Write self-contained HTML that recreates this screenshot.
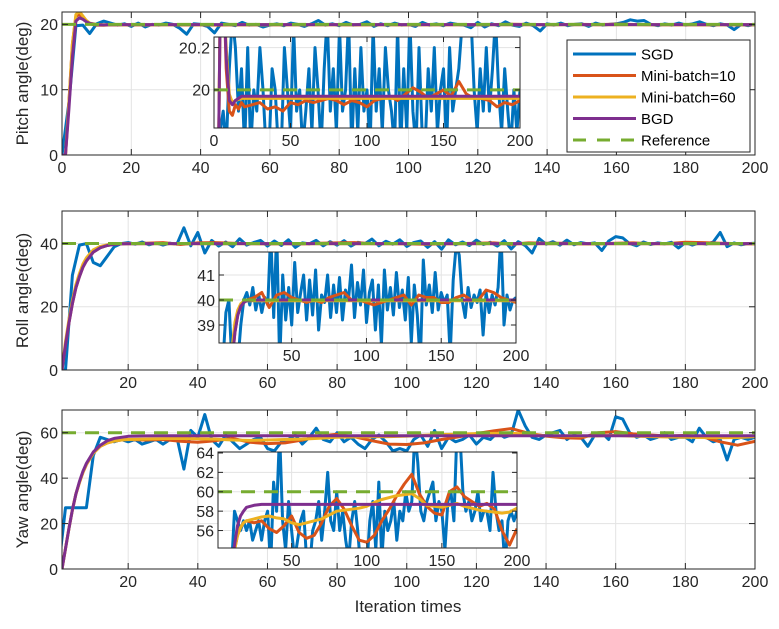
<!DOCTYPE html>
<html><head><meta charset="utf-8"><style>
html,body{margin:0;padding:0;background:#fff;width:779px;height:629px;overflow:hidden}
svg{display:block;font-family:"Liberation Sans",Arial,sans-serif}
</style></head><body>
<svg id="fig" width="779" height="629" viewBox="0 0 779 629" xmlns="http://www.w3.org/2000/svg"></svg>
<script>
// ---- data ----
const iters = Array.from({length:101},(_, i)=>i*2);
const smoothX = [0,1,2,3,4,5,6,7,8,10,12,14,16,18,20,25,30,35,40,45,50,55,60,65,70,75,80,85,90,95,100,105,110,115,120,125,130,135,140,145,150,155,160,165,170,175,180,185,190,195,200];

const pitchSGD = [0,8,19.8,19.9,18.6,20.1,20.5,20.2,19.9,20.1,
19.7,20.2,19.6,20.0,19.9,20.2,20.0,19.4,18.5,20.1,
20.0,19.7,18.7,20.2,20.0,19.8,20.3,19.9,20.0,19.6,
19.9,20.1,19.8,20.2,20.0,19.7,20.1,20.6,19.9,20.1,
19.8,20.3,19.9,20.0,20.4,19.7,20.1,19.8,20.2,19.9,
20.0,19.7,20.3,19.9,20.1,19.8,20.2,20.0,19.9,19.5,
20.3,19.6,20.1,19.8,20.4,19.9,19.7,20.2,19.8,19.0,
20.1,19.9,20.2,19.8,20.0,20.1,19.7,20.2,19.9,20.0,
20.1,20.3,20.7,20.5,20.6,20.0,19.8,20.1,19.9,20.2,
19.9,20.1,20.4,20.0,19.8,20.1,19.9,19.2,20.0,19.8,20.0];
const pitchMB10 = [0,0,8,17,21.2,21.6,21,20.5,20.1,19.9,19.88,19.93,19.91,19.94,19.92,19.93,19.94,19.91,19.92,19.90,19.94,19.93,19.95,19.94,19.95,19.96,19.95,19.93,19.95,19.94,19.92,19.95,19.96,19.97,19.95,19.98,20.01,19.99,19.96,19.98,20.0,19.97,20.04,19.98,19.96,19.96,19.95,19.92,19.94,19.93,19.95];
const pitchMB60 = [0,0,8,17,21.5,22,21.3,20.6,20.2,19.98,19.94,19.95,19.955,19.96,19.96,19.96,19.96,19.96,19.96,19.96,19.96,19.96,19.96,19.96,19.96,19.96,19.96,19.96,19.96,19.96,19.96,19.96,19.96,19.96,19.96,19.96,19.96,19.96,19.96,19.96,19.96,19.96,19.96,19.96,19.96,19.96,19.96,19.96,19.96,19.96,19.96];
const pitchBGD = [0,0,7,15,20.5,21,20.8,20.4,20.15,19.95,19.93,19.95,19.96,19.97,19.97,19.97,19.97,19.97,19.97,19.97,19.97,19.97,19.97,19.97,19.97,19.97,19.97,19.97,19.97,19.97,19.97,19.97,19.97,19.97,19.97,19.97,19.97,19.97,19.97,19.97,19.97,19.97,19.97,19.97,19.97,19.97,19.97,19.97,19.97,19.97,19.97];

const rollSGD = [0,0,30,39.5,40,34,33,36,39,40,
40.3,39.8,40.5,39.6,40.2,39.5,40.1,39.8,45,39.3,
43.5,37,41,39.2,40.5,39.0,41.5,39.5,40.3,41.0,
39.2,40.8,39.4,41.2,38.8,40.2,39.9,41.0,39.3,40.6,
39.5,40.9,39.2,40.4,40.0,41.4,39.3,40.7,39.8,41.2,
39.1,40.3,40.8,38.8,40.6,38.2,41.2,39.6,40.5,39.4,
41.1,39.7,40.4,39.2,40.9,38.3,40.6,39.4,37.0,41.6,
39.8,40.6,39.5,41.1,39.6,40.3,39.9,40.2,37.8,40.8,
42.2,41.8,40.0,39.3,40.5,39.7,40.2,39.9,40.4,38.6,
40.3,39.5,40.2,39.8,40.5,43.5,39.0,40.2,39.6,40.0,40.1];
const rollMB10 = [0,0,8,15,21,26,29.5,32.5,34.5,37.3,38.7,39.4,39.75,39.9,40.0,40.1,40.3,39.7,40.2,40.3,40.1,40.0,39.9,40.0,39.9,40.1,40.2,40.3,40.0,40.0,39.9,39.8,39.9,40.0,40.1,40.2,39.8,40.2,40.1,40.1,39.9,39.9,40.1,40.2,40.0,40.0,40.4,40.3,40.1,40.0,39.9];
const rollMB60 = [0,0,9,16,22,27,30.5,33.5,35.5,38,39.1,39.6,39.85,39.95,39.97,39.97,39.97,39.97,39.97,39.97,39.97,39.97,39.97,39.97,39.97,39.97,39.97,39.97,39.97,39.97,39.97,39.97,39.97,39.97,39.97,39.97,39.97,39.97,39.97,39.97,39.97,39.97,39.97,39.97,39.97,39.97,39.97,39.97,39.97,39.97,39.97];
const rollBGD = [0,0,8,15,21,26,29.5,32.5,34.5,37.3,38.7,39.4,39.75,39.9,39.97,40,40,40,40,40,40,40,40,40,40,40,40,40,40,40,40,40,40,40,40,40,40,40,40,40,40,40,40,40,40,40,40,40,40,40,40];

const yawSGD = [0,27,27,27,27,50,58,57,56,57,
56,57,55,56,57,55,57,58,44,61,
58,68,57,54,59,56,53,55,57,58,
53,52,56,57,59,55,58,62,57,56,
60,56,58,55,53,57,59,56,52,53,
52,57,59,54,61,53,58,56,57,59,
55,58,57,60,58,59,70,63,58,57,
59,60,61,57,59,58,54,59,60,57,
67,66,60,58,59,57,58,60,57,58,
58,56,62,58,56,57,48,57,58,57,58];
const yawMB10 = [0,0,9,18,26,33,38,42.5,46,51,54,55.5,56.3,56.8,57.0,56.8,57.0,56.2,55.8,56.5,57.5,55.8,55.2,55.5,56.8,58.5,59.3,58.2,56.5,55.0,54.8,55.5,57.0,58.2,59.6,60.8,61.8,59.8,58.5,57.8,57.6,60.0,60.5,59.5,59.0,58.5,58.8,58.2,56.0,54.5,56.2];
const yawMB60 = [0,0,9,18,26,33,38,42.5,46,51,54,55.5,56.3,56.8,57.0,57.2,57.4,57.5,57.3,57.2,56.8,56.6,56.8,57.0,57.2,57.6,58.0,58.1,58.2,58.3,58.5,58.9,59.2,59.4,59.6,59.7,59.8,59.3,58.6,58.5,58.4,58.6,58.8,58.5,58.3,58.1,58.0,57.9,57.8,57.9,58.3];
const yawBGD = [0,0,9,18,26,33,38.5,43,46.5,51.5,54.5,56.5,57.5,58,58.4,58.6,58.7,58.7,58.7,58.7,58.7,58.7,58.7,58.7,58.7,58.7,58.7,58.7,58.7,58.7,58.7,58.7,58.7,58.7,58.7,58.7,58.7,58.7,58.7,58.7,58.7,58.7,58.7,58.7,58.7,58.7,58.7,58.7,58.7,58.7,58.7];

const pitchRef = [20], rollRef = [40], yawRef = [60];
const legendLabels = ["SGD","Mini-batch=10","Mini-batch=60","BGD","Reference"];

// ---- drawing ----
const NS="http://www.w3.org/2000/svg";
const svg=document.getElementById('fig');
const C={sgd:"#0072BD",mb10:"#D95319",mb60:"#EDB120",bgd:"#7E2F8E",ref:"#77AC30"};
let clipId=0;
function mk(tag,attrs,parent){const e=document.createElementNS(NS,tag);for(const k in attrs)e.setAttribute(k,attrs[k]);(parent||svg).appendChild(e);return e;}

function drawAxes(name,ax){
  const g=mk('g',{});
  
  
  const X=v=>ax.x0+(v-ax.xlim[0])/(ax.xlim[1]-ax.xlim[0])*(ax.x1-ax.x0);
  const Y=v=>ax.y1-(v-ax.ylim[0])/(ax.ylim[1]-ax.ylim[0])*(ax.y1-ax.y0);
  const Yc=v=>Math.max(ax.y0-20,Math.min(ax.y1+20,Y(v)));
  const bg=mk('rect',{x:ax.x0,y:ax.y0,width:ax.x1-ax.x0,height:ax.y1-ax.y0,fill:'#fff'},g);
  
  
  const grid=mk('g',{stroke:'#e3e3e3','stroke-width':1},g);
  
  
  ax.xticks.forEach(t=>{const x=X(t);if(x>ax.x0+1&&x<ax.x1-1)mk('line',{x1:x,x2:x,y1:ax.y0,y2:ax.y1},grid);});
  ax.yticks.forEach(t=>{const y=Y(t);if(y>ax.y0+1&&y<ax.y1-1)mk('line',{x1:ax.x0,x2:ax.x1,y1:y,y2:y},grid);});
  const id='clip'+(clipId++);
  const cp=mk('clipPath',{id:id},g);mk('rect',{x:ax.x0,y:ax.y0,width:ax.x1-ax.x0,height:ax.y1-ax.y0},cp);
  const sg=mk('g',{'clip-path':'url(#'+id+')',fill:'none','stroke-width':3,'stroke-linejoin':'round'},g);
  ax.series.forEach(s=>{
    let d;
    if(s.ref){d='M'+X(ax.xlim[0])+','+Y(s.ys[0])+'L'+X(ax.xlim[1])+','+Y(s.ys[0]);}
    else d=s.xs.map((v,i)=>(i?'L':'M')+Math.max(ax.x0-10,X(v)).toFixed(1)+','+Yc(s.ys[i]).toFixed(1)).join('');
    const p=mk('path',{d:d,stroke:s.c},sg);
    if(s.ref)p.setAttribute('stroke-dasharray','14 9');
    
    
  });
  const tk=mk('g',{stroke:'#262626','stroke-width':1,fill:'none'},g);
  mk('rect',{x:ax.x0,y:ax.y0,width:ax.x1-ax.x0,height:ax.y1-ax.y0},tk);
  const L=ax.tl||6;
  ax.xticks.forEach(t=>{const x=X(t);mk('line',{x1:x,x2:x,y1:ax.y1,y2:ax.y1-L},tk);mk('line',{x1:x,x2:x,y1:ax.y0,y2:ax.y0+L},tk);});
  ax.yticks.forEach(t=>{const y=Y(t);mk('line',{x1:ax.x0,x2:ax.x0+L,y1:y,y2:y},tk);mk('line',{x1:ax.x1,x2:ax.x1-L,y1:y,y2:y},tk);});
  const fs=ax.fs||16;
  ax.xticks.forEach((t,i)=>{const e=mk('text',{x:X(t),y:ax.y1+fs+2,'text-anchor':'middle','font-size':fs,fill:'#262626'},g);e.textContent=ax.xlab?ax.xlab[i]:String(t);
    });
  ax.yticks.forEach((t,i)=>{const e=mk('text',{x:ax.x0-4,y:Y(t)+fs*0.36,'text-anchor':'end','font-size':fs,fill:'#262626'},g);e.textContent=ax.ylab?ax.ylab[i]:String(t);
    });
  if(ax.ytitle){const cy=(ax.y0+ax.y1)/2;const e=mk('text',{x:28,y:cy,'text-anchor':'middle','font-size':17,fill:'#262626',transform:'rotate(-90 28 '+cy+')'},g);e.textContent=ax.ytitle;
    }
  return g;
}
function S(xs,a,b,c,d,r){return [
 {n:'sgd',xs:iters,ys:a,c:C.sgd},{n:'mini-batch-10',xs:smoothX,ys:b,c:C.mb10},
 {n:'mini-batch-60',xs:smoothX,ys:c,c:C.mb60},{n:'bgd',xs:smoothX,ys:d,c:C.bgd},
 {n:'reference',ys:r,c:C.ref,ref:true}];}
const mainX=[0,20,40,60,80,100,120,140,160,180,200];
const mainX2=[20,40,60,80,100,120,140,160,180,200];

drawAxes('pitch-panel',{x0:62,x1:755,y0:12,y1:155,xlim:[0,200],ylim:[0,21.9],xticks:mainX,yticks:[0,10,20],series:S(0,pitchSGD,pitchMB10,pitchMB60,pitchBGD,pitchRef),ytitle:'Pitch angle(deg)'});
drawAxes('pitch-inset',{x0:214,x1:520,y0:37,y1:128,xlim:[0,200],ylim:[19.82,20.25],xticks:[0,50,100,150,200],yticks:[20,20.2],ylab:['20','20.2'],series:S(0,pitchSGD,pitchMB10,pitchMB60,pitchBGD,pitchRef),tl:5});

drawAxes('roll-panel',{x0:62,x1:755,y0:211,y1:370,xlim:[1,200],ylim:[0,50.3],xticks:mainX2,yticks:[0,20,40],series:S(0,rollSGD,rollMB10,rollMB60,rollBGD,rollRef),ytitle:'Roll angle(deg)'});
drawAxes('roll-inset',{x0:219,x1:516,y0:252,y1:343,xlim:[1.4,200],ylim:[38.28,41.92],xticks:[50,100,150,200],yticks:[39,40,41],series:S(0,rollSGD,rollMB10,rollMB60,rollBGD,rollRef),tl:5});

drawAxes('yaw-panel',{x0:62,x1:755,y0:410,y1:569,xlim:[1,200],ylim:[0,70],xticks:mainX2,yticks:[0,20,40,60],series:S(0,yawSGD,yawMB10,yawMB60,yawBGD,yawRef),ytitle:'Yaw angle(deg)'});
drawAxes('yaw-inset',{x0:218,x1:517,y0:452,y1:548,xlim:[1,200],ylim:[54.2,64.1],xticks:[50,100,150,200],yticks:[56,58,60,62,64],series:S(0,yawSGD,yawMB10,yawMB60,yawBGD,yawRef),tl:5});

const xt=mk('text',{x:408,y:612,'text-anchor':'middle','font-size':17,fill:'#262626'});
xt.textContent='Iteration times';



const lg=mk('g',{});


mk('rect',{x:567,y:40,width:183,height:112,fill:'#fff',stroke:'#262626','stroke-width':1},lg);
const lcol=[C.sgd,C.mb10,C.mb60,C.bgd,C.ref];
legendLabels.forEach((t,i)=>{
  const y=54+i*21.5;
  const e=mk('g',{},lg);
  
  
  const l=mk('line',{x1:573,x2:636,y1:y,y2:y,stroke:lcol[i],'stroke-width':3},e);
  if(i===4)l.setAttribute('stroke-dasharray','13 11');
  const tx=mk('text',{x:641,y:y+5.5,'font-size':15,fill:'#000'},e);tx.textContent=t;
});
</script>
</body></html>
